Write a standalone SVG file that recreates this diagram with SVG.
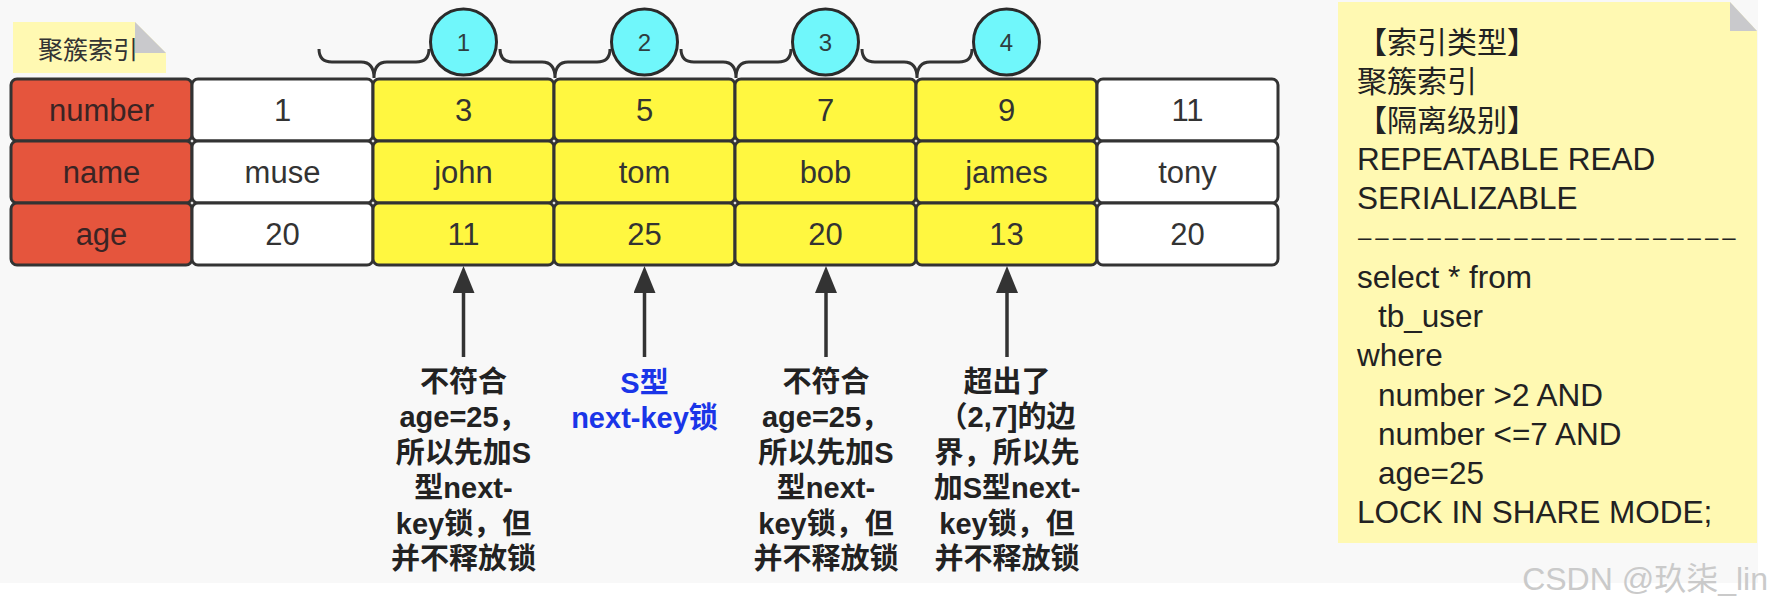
<svg xmlns="http://www.w3.org/2000/svg" width="1773" height="610" viewBox="0 0 1773 610">
<defs>
<style>
.cell{stroke:#333;stroke-width:3}
.red{fill:#e5553d}
.wht{fill:#ffffff}
.yel{fill:#fff740}
.ct{font-family:"Liberation Sans","Noto Sans CJK SC",sans-serif;font-size:31px;fill:#333;text-anchor:middle}
.hd{fill:#3a2424}
.circ{fill:#70f7fb;stroke:#2b2b2b;stroke-width:3}
.cn{font-family:"Liberation Sans",sans-serif;font-size:24px;fill:#2e3e40;text-anchor:middle}
.brace{fill:none;stroke:#333;stroke-width:3}
.arr{stroke:#333;stroke-width:3.5;fill:none}
.bt{font-family:"Liberation Sans","Noto Sans CJK SC",sans-serif;font-size:29px;font-weight:bold;fill:#222;text-anchor:middle}
.blue{fill:#1a35e8}
.nt{font-family:"Liberation Sans","Noto Sans CJK SC",sans-serif;font-size:30px;fill:#222}
.lt{font-size:31.5px}
.dash{font-size:24px;letter-spacing:4px}
.note{fill:#fff9b2}
.fold{fill:#c9c9cc}
</style>
<marker id="ah" viewBox="0 0 27 22" refX="0" refY="11" markerWidth="27" markerHeight="22" markerUnits="userSpaceOnUse" orient="auto">
<path d="M0,0 L27,11 L0,22 z" fill="#333"/>
</marker>
</defs>
<rect x="0" y="0" width="1758" height="583" fill="#f8f8f8"/>

<g id="label-note">
<polygon class="note" points="13,22 135,22 166,53 166,73 13,73"/>
<polygon class="fold" points="135,22 135,53 166,53"/>
<text x="38" y="59" font-family="'Noto Sans CJK SC',sans-serif" font-size="25" fill="#333">聚簇索引</text>
</g>

<g id="col-header">
<rect class="cell red" x="11" y="79" width="181" height="62" rx="6"/>
<rect class="cell red" x="11" y="141" width="181" height="62" rx="6"/>
<rect class="cell red" x="11" y="203" width="181" height="62" rx="6"/>
<text class="ct hd" x="101.5" y="121">number</text>
<text class="ct hd" x="101.5" y="183">name</text>
<text class="ct hd" x="101.5" y="245">age</text>
</g>
<g id="col-1">
<rect class="cell wht" x="192" y="79" width="181" height="62" rx="6"/>
<rect class="cell wht" x="192" y="141" width="181" height="62" rx="6"/>
<rect class="cell wht" x="192" y="203" width="181" height="62" rx="6"/>
<text class="ct" x="282.5" y="121">1</text>
<text class="ct" x="282.5" y="183">muse</text>
<text class="ct" x="282.5" y="245">20</text>
</g>
<g id="col-3">
<rect class="cell yel" x="373" y="79" width="181" height="62" rx="6"/>
<rect class="cell yel" x="373" y="141" width="181" height="62" rx="6"/>
<rect class="cell yel" x="373" y="203" width="181" height="62" rx="6"/>
<text class="ct" x="463.5" y="121">3</text>
<text class="ct" x="463.5" y="183">john</text>
<text class="ct" x="463.5" y="245">11</text>
</g>
<g id="col-5">
<rect class="cell yel" x="554" y="79" width="181" height="62" rx="6"/>
<rect class="cell yel" x="554" y="141" width="181" height="62" rx="6"/>
<rect class="cell yel" x="554" y="203" width="181" height="62" rx="6"/>
<text class="ct" x="644.5" y="121">5</text>
<text class="ct" x="644.5" y="183">tom</text>
<text class="ct" x="644.5" y="245">25</text>
</g>
<g id="col-7">
<rect class="cell yel" x="735" y="79" width="181" height="62" rx="6"/>
<rect class="cell yel" x="735" y="141" width="181" height="62" rx="6"/>
<rect class="cell yel" x="735" y="203" width="181" height="62" rx="6"/>
<text class="ct" x="825.5" y="121">7</text>
<text class="ct" x="825.5" y="183">bob</text>
<text class="ct" x="825.5" y="245">20</text>
</g>
<g id="col-9">
<rect class="cell yel" x="916" y="79" width="181" height="62" rx="6"/>
<rect class="cell yel" x="916" y="141" width="181" height="62" rx="6"/>
<rect class="cell yel" x="916" y="203" width="181" height="62" rx="6"/>
<text class="ct" x="1006.5" y="121">9</text>
<text class="ct" x="1006.5" y="183">james</text>
<text class="ct" x="1006.5" y="245">13</text>
</g>
<g id="col-11">
<rect class="cell wht" x="1097" y="79" width="181" height="62" rx="6"/>
<rect class="cell wht" x="1097" y="141" width="181" height="62" rx="6"/>
<rect class="cell wht" x="1097" y="203" width="181" height="62" rx="6"/>
<text class="ct" x="1187.5" y="121">11</text>
<text class="ct" x="1187.5" y="183">tony</text>
<text class="ct" x="1187.5" y="245">20</text>
</g>

<g id="connectors">
<path class="brace" d="M319,49 Q319,62 332,62 L361,62 Q374,62 374,78 Q374,62 387,62 L416,62 Q429,62 429,49"/>
<path class="brace" d="M500,49 Q500,62 513,62 L542,62 Q555,62 555,78 Q555,62 568,62 L597,62 Q610,62 610,49"/>
<path class="brace" d="M681,49 Q681,62 694,62 L723,62 Q736,62 736,78 Q736,62 749,62 L778,62 Q791,62 791,49"/>
<path class="brace" d="M862,49 Q862,62 875,62 L904,62 Q917,62 917,78 Q917,62 930,62 L959,62 Q972,62 972,49"/>
<path class="arr" d="M463.5,357 L463.5,293" marker-end="url(#ah)"/>
<path class="arr" d="M644.5,357 L644.5,293" marker-end="url(#ah)"/>
<path class="arr" d="M826,357 L826,293" marker-end="url(#ah)"/>
<path class="arr" d="M1007,357 L1007,293" marker-end="url(#ah)"/>
</g>

<g id="marker-1"><circle class="circ" cx="463.5" cy="42" r="33"/><text class="cn" x="463.5" y="51">1</text></g>
<g id="marker-2"><circle class="circ" cx="644.5" cy="42" r="33"/><text class="cn" x="644.5" y="51">2</text></g>
<g id="marker-3"><circle class="circ" cx="825.5" cy="42" r="33"/><text class="cn" x="825.5" y="51">3</text></g>
<g id="marker-4"><circle class="circ" cx="1006.5" cy="42" r="33"/><text class="cn" x="1006.5" y="51">4</text></g>

<g id="note-3">
<text class="bt" x="463.5" y="392">不符合</text>
<text class="bt" x="463.5" y="427">age=25，</text>
<text class="bt" x="463.5" y="463">所以先加S</text>
<text class="bt" x="463.5" y="498">型next-</text>
<text class="bt" x="463.5" y="534">key锁，但</text>
<text class="bt" x="463.5" y="569">并不释放锁</text>
</g>
<g id="note-5">
<text class="bt blue" x="644.5" y="393">S型</text>
<text class="bt blue" x="644.5" y="428">next-key锁</text>
</g>
<g id="note-7">
<text class="bt" x="826" y="392">不符合</text>
<text class="bt" x="826" y="427">age=25，</text>
<text class="bt" x="826" y="463">所以先加S</text>
<text class="bt" x="826" y="498">型next-</text>
<text class="bt" x="826" y="534">key锁，但</text>
<text class="bt" x="826" y="569">并不释放锁</text>
</g>
<g id="note-9">
<text class="bt" x="1007" y="392">超出了</text>
<text class="bt" x="1007" y="427">（2,7]的边</text>
<text class="bt" x="1007" y="463">界，所以先</text>
<text class="bt" x="1007" y="498">加S型next-</text>
<text class="bt" x="1007" y="534">key锁，但</text>
<text class="bt" x="1007" y="569">并不释放锁</text>
</g>

<g id="info-note">
<polygon class="note" points="1338,2 1730,2 1757,31 1757,543 1338,543"/>
<polygon class="fold" points="1730,2 1730,31 1757,31"/>
<text class="nt" x="1357" y="53">【索引类型】</text>
<text class="nt" x="1357" y="92">聚簇索引</text>
<text class="nt" x="1357" y="131">【隔离级别】</text>
<text class="nt lt" x="1357" y="170">REPEATABLE READ</text>
<text class="nt lt" x="1357" y="209">SERIALIZABLE</text>
<text class="nt dash" x="1358" y="245">––––––––––––––––––––––</text>
<text class="nt lt" x="1357" y="288">select * from</text>
<text class="nt lt" x="1378" y="327">tb_user</text>
<text class="nt lt" x="1357" y="366">where</text>
<text class="nt lt" x="1378" y="406">number &gt;2 AND</text>
<text class="nt lt" x="1378" y="445">number &lt;=7 AND</text>
<text class="nt lt" x="1378" y="484">age=25</text>
<text class="nt lt" x="1357" y="523">LOCK IN SHARE MODE;</text>
</g>

<text x="1768" y="590" text-anchor="end" font-family="'Liberation Sans','Noto Sans CJK SC',sans-serif" font-size="32" fill="#cacaca">CSDN @玖柒_lin</text>
</svg>
